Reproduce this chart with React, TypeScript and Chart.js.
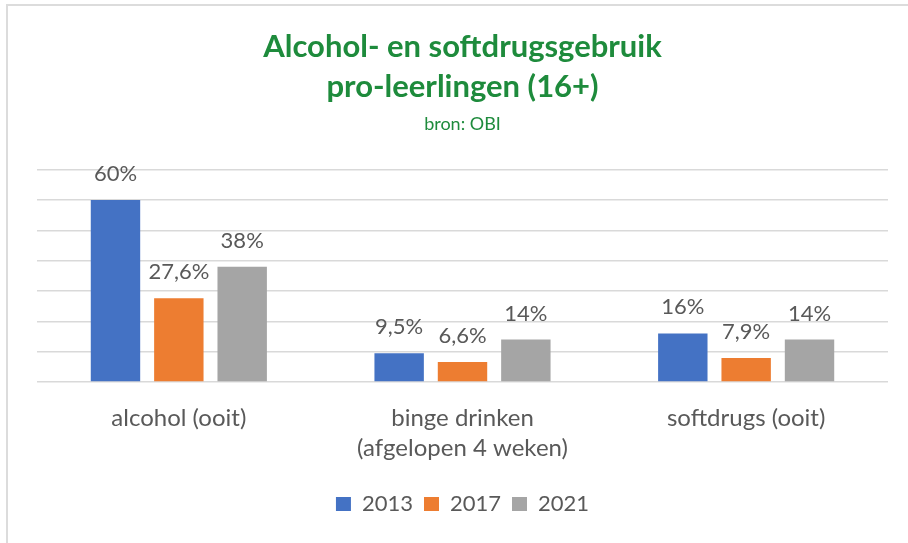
import React, { useEffect, useRef } from "react";
import { Chart, registerables } from "chart.js";

Chart.register(...registerables);

const categories: (string | string[])[] = [
  "alcohol (ooit)",
  ["binge drinken", "(afgelopen 4 weken)"],
  "softdrugs (ooit)",
];
const seriesNames = ["2013", "2017", "2021"];
const values2013 = [60, 9.5, 16];
const values2017 = [27.6, 6.6, 7.9];
const values2021 = [38, 14, 14];
const labels2013 = ["60%", "9,5%", "16%"];
const labels2017 = ["27,6%", "6,6%", "7,9%"];
const labels2021 = ["38%", "14%", "14%"];
const colors = ["#4472C4", "#ED7D31", "#A5A5A5"];
const titleLines = ["Alcohol- en softdrugsgebruik", "pro-leerlingen (16+)"];
const subtitleText = "bron: OBI";

const FONT = "Lato, 'Open Sans', sans-serif";
const TEXT = "#595959";
const GREEN = "#1e8b3c";

const dataLabelPlugin = {
  id: "dataLabels",
  afterDatasetsDraw(chart: any) {
    const ctx = chart.ctx;
    const all = [labels2013, labels2017, labels2021];
    ctx.save();
    ctx.font = `22px ${FONT}`;
    ctx.fillStyle = TEXT;
    ctx.textAlign = "center";
    ctx.textBaseline = "alphabetic";
    chart.data.datasets.forEach((_ds: any, di: number) => {
      const meta = chart.getDatasetMeta(di);
      meta.data.forEach((bar: any, i: number) => {
        ctx.fillText(all[di][i], bar.x, bar.y - 19);
      });
    });
    ctx.restore();
  },
};

export default function App() {
  const ref = useRef<HTMLCanvasElement>(null);
  useEffect(() => {
    if (!ref.current) return;
    const chart = new Chart(ref.current, {
      type: "bar",
      data: {
        labels: categories as any,
        datasets: [values2013, values2017, values2021].map((v, i) => ({
          label: seriesNames[i],
          data: v,
          backgroundColor: colors[i],
          borderWidth: 0,
          categoryPercentage: 0.67,
          barPercentage: 0.78,
        })),
      },
      options: {
        animation: false,
        responsive: false,
        maintainAspectRatio: false,
        layout: { padding: { left: 37, right: 20, top: 0, bottom: 18 } },
        plugins: {
          title: {
            display: true,
            text: titleLines,
            color: GREEN,
            font: { family: FONT, size: 31, weight: "bold", lineHeight: 40 / 31 },
            padding: { top: 27, bottom: 0 },
          },
          subtitle: {
            display: true,
            text: subtitleText,
            color: GREEN,
            font: { family: FONT, size: 18, lineHeight: 1.2 },
            padding: { top: 6, bottom: 35 },
          },
          legend: {
            display: true,
            position: "bottom",
            labels: {
              boxWidth: 15,
              boxHeight: 14,
              padding: 11,
              color: TEXT,
              font: { family: FONT, size: 22 },
            },
          },
          tooltip: { enabled: false },
        },
        scales: {
          x: {
            grid: { display: false, drawTicks: false },
            border: { display: false },
            ticks: {
              color: TEXT,
              font: { family: FONT, size: 24, lineHeight: 1.25 },
              padding: 21,
              maxRotation: 0,
              autoSkip: false,
            },
            afterFit: (scale: any) => {
              scale.height = 100;
            },
          },
          y: {
            min: 0,
            max: 70,
            ticks: { display: false, stepSize: 10 },
            grid: { color: "#d9d9d9", lineWidth: 1.5, drawTicks: false },
            border: { display: false },
          },
        },
      },
      plugins: [dataLabelPlugin],
    });
    return () => chart.destroy();
  }, []);

  return (
    <div
      style={{
        position: "absolute",
        left: 0,
        top: 0,
        width: 908,
        height: 543,
        background: "#ffffff",
        overflow: "hidden",
      }}
    >
      <div
        style={{
          position: "absolute",
          left: 6,
          top: 4,
          width: 2,
          height: 539,
          background: "#dcdcdc",
        }}
      />
      <div
        style={{
          position: "absolute",
          left: 6,
          top: 4,
          width: 902,
          height: 2,
          background: "#dcdcdc",
        }}
      />
      <canvas
        ref={ref}
        width={908}
        height={543}
        style={{ position: "absolute", left: 0, top: 0, width: 908, height: 543 }}
      />
    </div>
  );
}
